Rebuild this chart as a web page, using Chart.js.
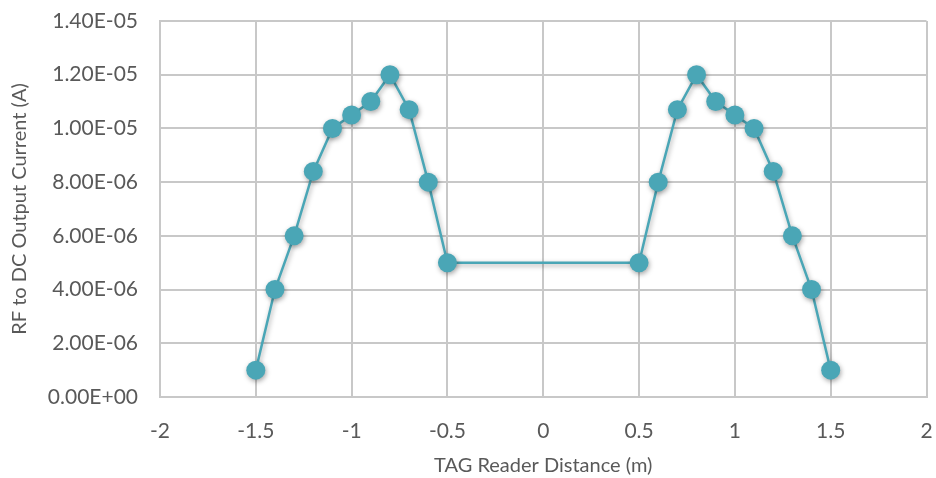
<!DOCTYPE html>
<html>
<head>
<meta charset="utf-8">
<script src="https://cdn.jsdelivr.net/npm/chart.js@4"></script>
<style>
    html, body { margin: 0; padding: 0; background: #fff; }
    #wrap { width: 936px; height: 478px; }
</style>
</head>
<body>
<div id="wrap"><canvas id="chart" width="936" height="478"></canvas></div>
<script>
const distances = [-1.5, -1.4, -1.3, -1.2, -1.1, -1.0, -0.9, -0.8, -0.7, -0.6, -0.5,
    0.5, 0.6, 0.7, 0.8, 0.9, 1.0, 1.1, 1.2, 1.3, 1.4, 1.5];
const currents = [1.0e-6, 4.0e-6, 6.0e-6, 8.4e-6, 1.0e-5, 1.05e-5, 1.1e-5, 1.2e-5, 1.07e-5, 8.0e-6, 5.0e-6,
    5.0e-6, 8.0e-6, 1.07e-5, 1.2e-5, 1.1e-5, 1.05e-5, 1.0e-5, 8.4e-6, 6.0e-6, 4.0e-6, 1.0e-6];

const xTitle = 'TAG Reader Distance (m)';
const yTitle = 'RF to DC Output Current (A)';

const textColor = '#595959';
const gridColor = '#c8c8c8';
const seriesColor = '#4aa6b6';
const fontFamily = "Lato, 'Open Sans', sans-serif";

function sciLabel(v) {
    const [m, e] = Number(v).toExponential(2).toUpperCase().split('E');
    const sign = e[0] === '-' ? '-' : '+';
    const digits = e.replace(/[+-]/, '').padStart(2, '0');
    return m + 'E' + sign + digits;
}

// soft drop shadow under the line and markers, like the office chart
const shadowPlugin = {
    id: 'shadow',
    beforeDatasetsDraw(chart) {
        const ctx = chart.ctx;
        ctx.save();
        ctx.shadowColor = 'rgba(0,0,0,0.35)';
        ctx.shadowBlur = 5;
        ctx.shadowOffsetX = 1;
        ctx.shadowOffsetY = 2;
    },
    afterDatasetsDraw(chart) {
        chart.ctx.restore();
    }
};

const points = distances.map((x, i) => ({ x, y: currents[i] }));

new Chart(document.getElementById('chart'), {
    type: 'scatter',
    data: {
        datasets: [{
            data: points,
            showLine: true,
            borderColor: seriesColor,
            backgroundColor: seriesColor,
            borderWidth: 2.5,
            pointRadius: 9.5,
            pointBorderWidth: 0,
            pointBackgroundColor: seriesColor
        }]
    },
    options: {
        responsive: false,
        animation: false,
        layout: { padding: { top: 21, right: 6, left: 0, bottom: 0 } },
        plugins: {
            legend: { display: false },
            tooltip: { enabled: false }
        },
        scales: {
            x: {
                type: 'linear',
                min: -2,
                max: 2,
                ticks: {
                    stepSize: 0.5,
                    color: textColor,
                    padding: 22,
                    font: { family: fontFamily, size: 21 },
                    callback: (v) => String(Math.round(v * 10) / 10)
                },
                grid: { color: gridColor, lineWidth: 2, drawTicks: false },
                border: { color: gridColor, width: 2 },
                title: {
                    display: true,
                    text: xTitle,
                    color: textColor,
                    padding: { top: 10, bottom: 0 },
                    font: { family: fontFamily, size: 20 }
                },
                afterFit(axis) {
                    axis.height = 81;
                    axis.paddingLeft = 0;
                    axis.paddingRight = 0;
                }
            },
            y: {
                min: 0,
                max: 1.4e-5,
                ticks: {
                    stepSize: 2e-6,
                    color: textColor,
                    padding: 22,
                    font: { family: fontFamily, size: 21 },
                    callback: (v) => sciLabel(v)
                },
                grid: { color: gridColor, lineWidth: 2, drawTicks: false },
                border: { color: gridColor, width: 2 },
                title: {
                    display: true,
                    text: yTitle,
                    color: textColor,
                    padding: { top: 8, bottom: 4 },
                    font: { family: fontFamily, size: 20 }
                },
                afterFit(axis) {
                    axis.width = 160;
                    axis.paddingTop = 0;
                    axis.paddingBottom = 0;
                }
            }
        }
    },
    plugins: [shadowPlugin]
});
</script>
</body>
</html>
